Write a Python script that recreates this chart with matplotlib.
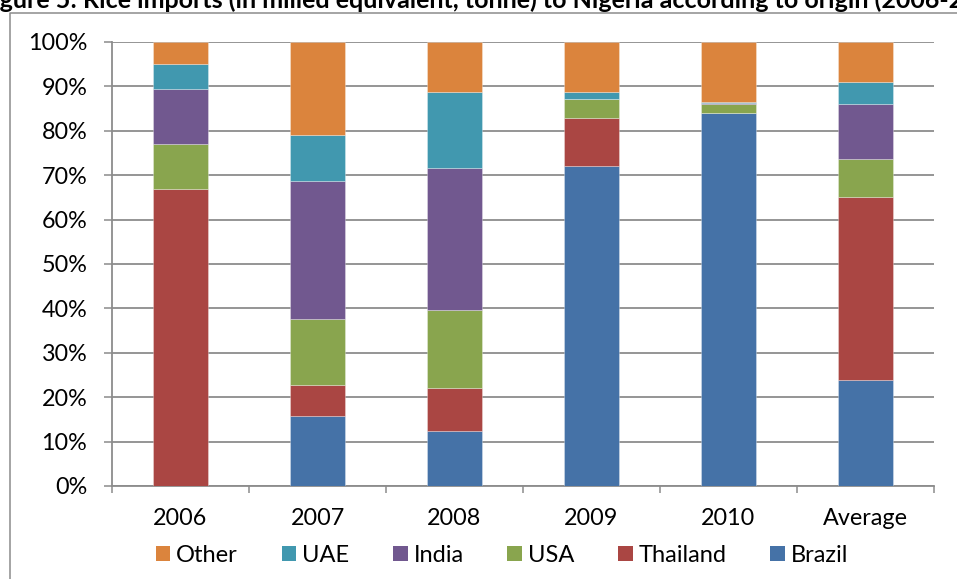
import matplotlib
matplotlib.use("Agg")
import matplotlib.pyplot as plt
from matplotlib.lines import Line2D
from matplotlib.patches import Patch
import numpy as np

# ---- data (percent share of imports) ----
categories = ['2006', '2007', '2008', '2009', '2010', 'Average']
brazil   = [0.0, 15.7, 12.5, 72.0, 84.1, 23.9]
thailand = [66.9, 7.1, 9.5, 10.8, 0.0, 41.3]
usa      = [10.1, 14.8, 17.6, 4.4, 1.9, 8.4]
india    = [12.4, 31.2, 32.0, 0.0, 0.3, 12.4]
uae      = [5.6, 10.3, 17.1, 1.5, 0.1, 5.1]
other    = [5.0, 20.9, 11.3, 11.3, 13.6, 8.9]
series_names = ['Brazil', 'Thailand', 'USA', 'India', 'UAE', 'Other']
yticks = list(range(0, 101, 10))
title = "Figure 5: Rice imports (in milled equivalent, tonne) to Nigeria according to origin (2006-2010)"

colors = ['#4572A7', '#AA4643', '#89A54E', '#71588F', '#4198AF', '#DB843D']
FONT = ['Lato', 'DejaVu Sans']
plt.rcParams['font.family'] = FONT

W, H = 957, 579
fig = plt.figure(figsize=(W / 100, H / 100), dpi=100)
fig.patch.set_facecolor('white')

def fx(px):
    return px / W

def fy(py):
    return 1 - py / H

ax = fig.add_axes([fx(112), fy(486), fx(934) - fx(112), fy(42) - fy(486)])

x = np.arange(len(categories))
data = [brazil, thailand, usa, india, uae, other]
bottom = np.zeros(len(categories))
for vals, name, c in zip(data, series_names, colors):
    v = np.array(vals)
    ax.bar(x, v, 0.40, bottom=bottom, color=c, label=name, zorder=3,
           edgecolor=(1, 1, 1, 0.35), linewidth=0.6)
    bottom += v

grid_c = '#8c8c8c'
ax.set_ylim(0, 100)
ax.set_xlim(-0.5, len(categories) - 0.5)
ax.set_yticks(yticks)
ax.set_yticklabels([f"{t}%" for t in yticks])
ax.yaxis.grid(True, color=grid_c, linewidth=1.3, zorder=0)
ax.set_axisbelow(True)

ax.set_xticks(x)
ax.set_xticklabels(categories)
ax.set_xticks(np.arange(-0.5, len(categories), 1.0), minor=True)
ax.tick_params(axis='x', which='major', length=0, pad=16, labelsize=16.8)
ax.tick_params(axis='x', which='minor', length=5.2, width=1.1, color=grid_c, direction='out')
ax.tick_params(axis='y', length=5.8, width=1.1, color=grid_c, pad=12, labelsize=16.8)

for s in ['top', 'right']:
    ax.spines[s].set_visible(False)
for s in ['left', 'bottom']:
    ax.spines[s].set_color(grid_c)
    ax.spines[s].set_linewidth(1.3)

# legend (reverse order)
handles = [Patch(facecolor=c, edgecolor='none') for c in colors][::-1]
labels = series_names[::-1]
leg = fig.legend(handles, labels, loc='center', bbox_to_anchor=(fx(502), fy(555)),
                 ncol=6, frameon=False, fontsize=17, handlelength=0.62,
                 handleheight=0.62, handletextpad=0.25, columnspacing=1.85,
                 borderaxespad=0, borderpad=0)

# outer chart frame (left and top edges visible)
fig.add_artist(Line2D([fx(10), fx(10), 1.01], [-0.01, fy(13), fy(13)],
                      transform=fig.transFigure, color='#8c8c8c', linewidth=1.1))

# title, clipped at both edges like the reference
r = fig.canvas.get_renderer()

def tw(s, fs):
    t = fig.text(0, 0, s, fontsize=fs, fontweight='bold')
    b = t.get_window_extent(r).width
    t.remove()
    return b

fs0 = 18.0
vis = title[:title.index('(2006-') + 6]
span = tw(vis, fs0) - tw('Fi', fs0)
fs = fs0 * 948.0 / span
off = tw('Fi', fs)
fig.text(fx(-off), fy(8), title, fontsize=fs, fontweight='bold', va='baseline', ha='left')

fig.savefig('out.png', dpi=100, facecolor='white')
